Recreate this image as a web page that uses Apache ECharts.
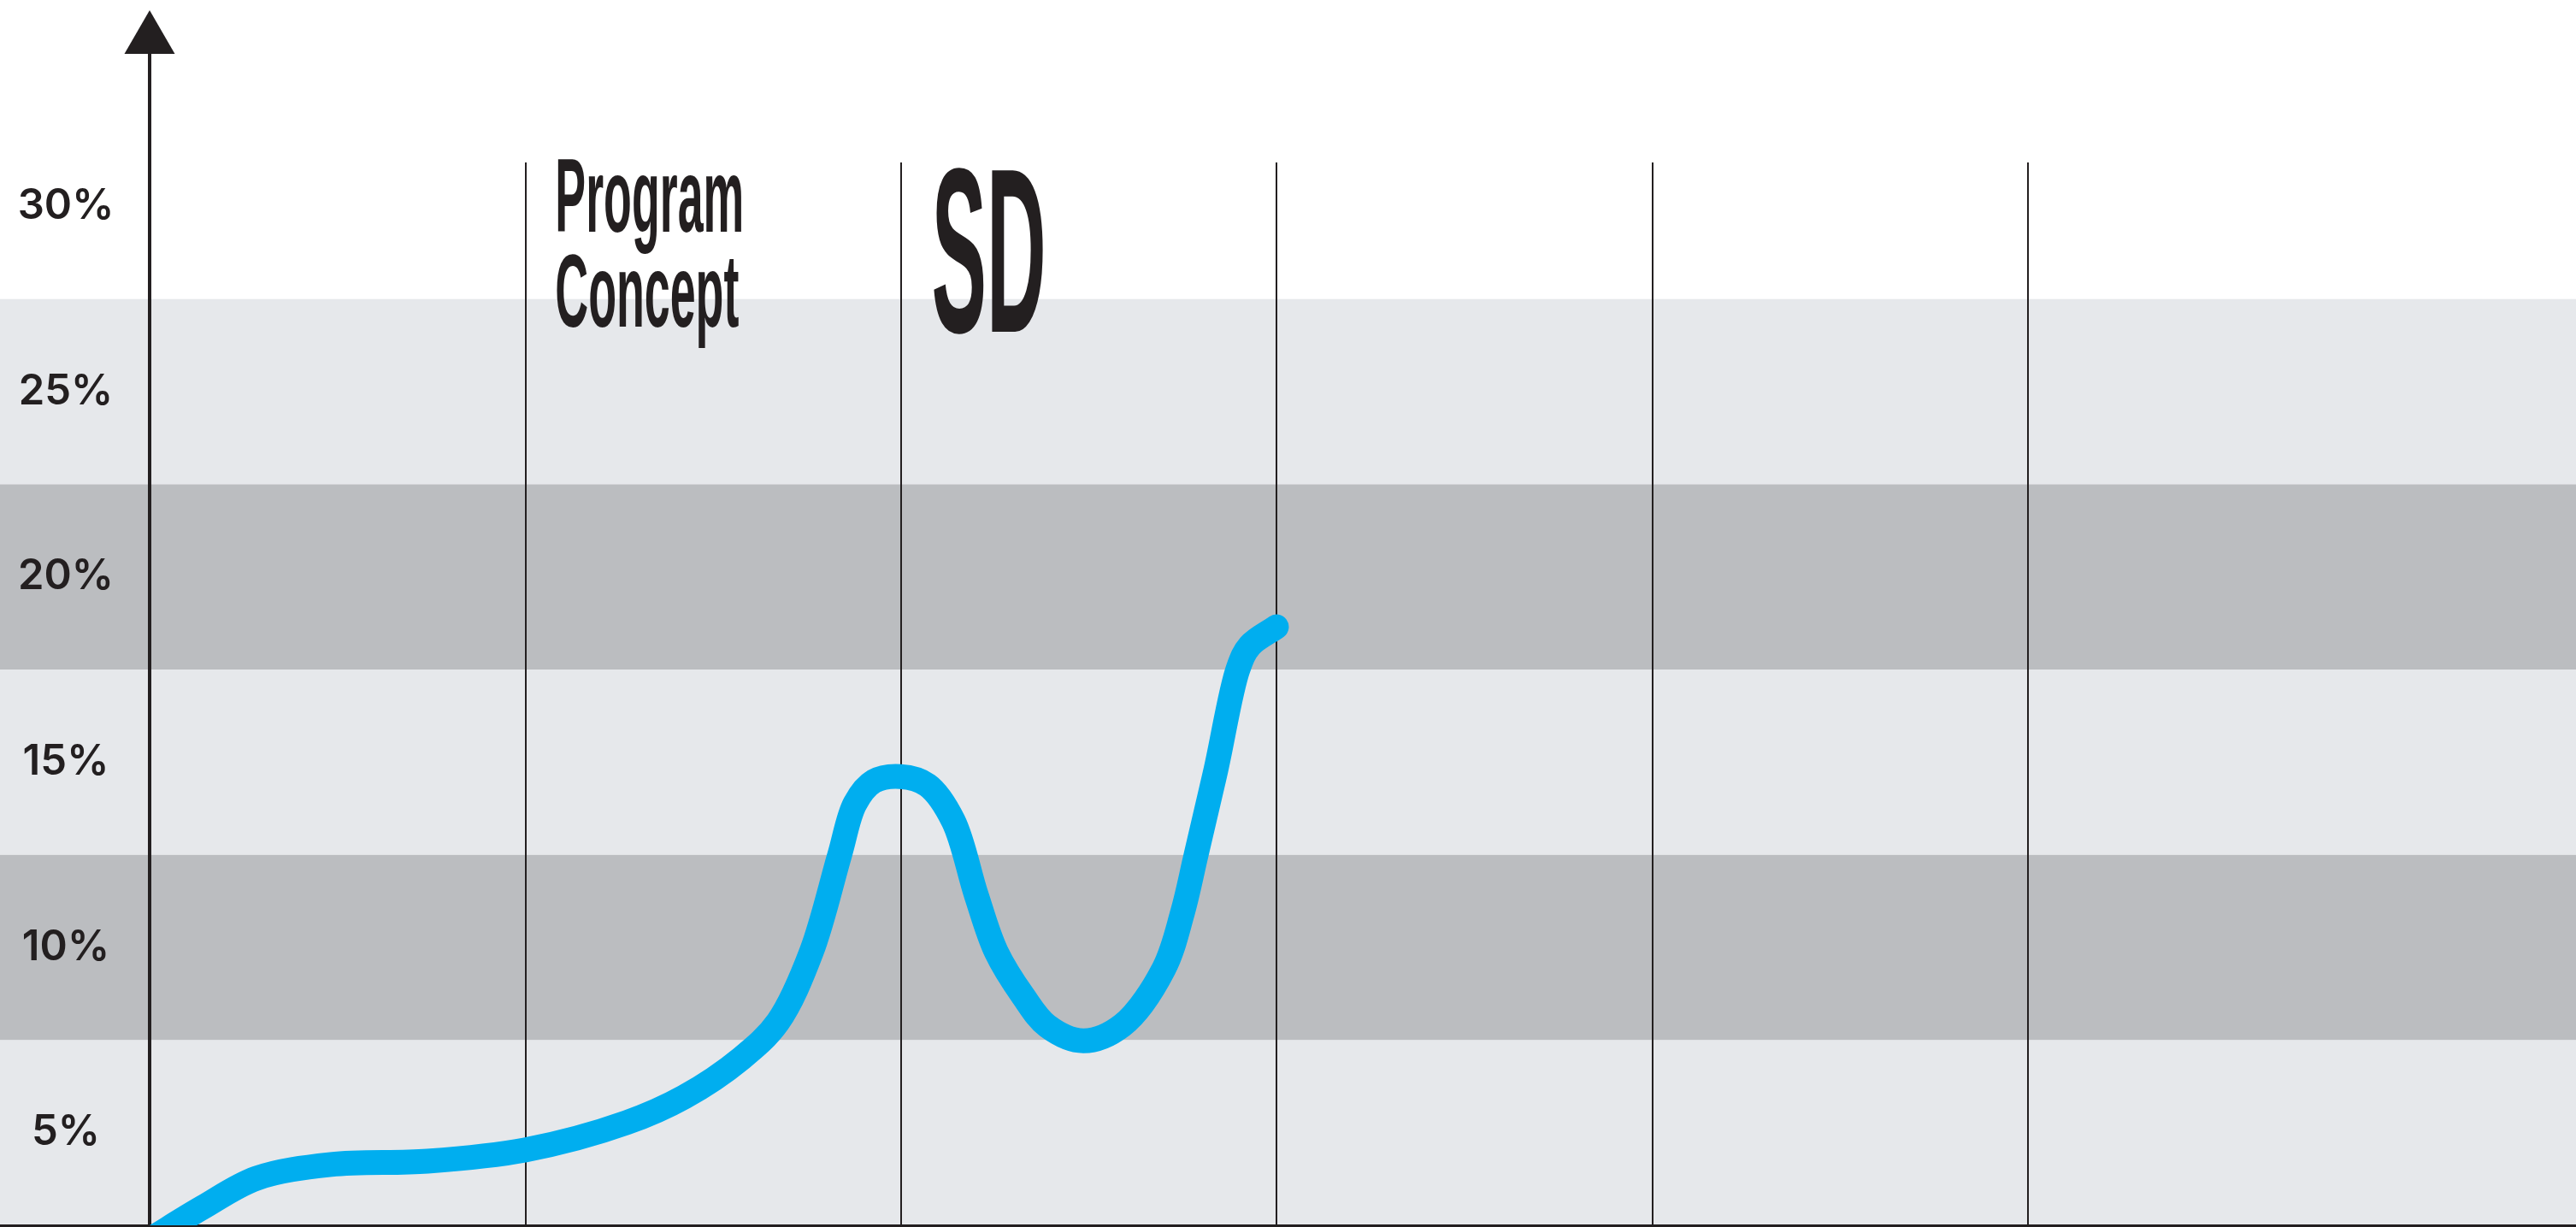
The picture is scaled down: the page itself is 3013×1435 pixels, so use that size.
<!DOCTYPE html>
<html>
<head>
<meta charset="utf-8">
<script src="https://cdn.jsdelivr.net/npm/echarts@6/dist/echarts.min.js"></script>
<style>
html,body{margin:0;padding:0;background:#ffffff;}
#c{width:3013px;height:1435px;}
</style>
</head>
<body>
<div id="c"></div>
<script>
// ---- data ----
const curveX = [0.000, 0.141, 0.285, 0.483, 0.740, 0.999, 1.270, 1.423, 1.575, 1.673,
  1.762, 1.837, 1.878, 1.928, 1.999, 2.071, 2.140, 2.201, 2.254, 2.326,
  2.390, 2.486, 2.590, 2.700, 2.750, 2.786, 2.839, 2.898, 2.929, 3.000];
const curveY = [2.11, 2.98, 3.77, 4.14, 4.23, 4.53, 5.27, 5.96, 7.00, 7.99,
  9.88, 12.49, 13.88, 14.48, 14.61, 14.38, 13.41, 11.41, 9.88, 8.68,
  7.88, 7.48, 7.90, 9.42, 10.94, 12.49, 14.80, 17.52, 18.14, 18.65];
const yTickLabels = [5, 10, 15, 20, 25, 30];
const phaseBoundaries = [1, 2, 3, 4, 5];
const phaseLabelX = [1, 2];
const phaseLabelText = ['Program\nConcept', 'SD'];

// ---- axis ranges / styles ----
const Y_MIN = 2.5, Y_MAX = 34.7, Y_BAND = 5, X_MAX = 6.46;
const INK = '#231f20';
const BLUE = '#00aeef';
const LIGHT = '#e6e8eb', DARK = '#bbbdc0', WHITE = '#ffffff';
const BAND_COLORS = [LIGHT, DARK, LIGHT, DARK, LIGHT, WHITE, WHITE, WHITE];

// smooth (centripetal Catmull-Rom) path through coordinates produced by the axes
function splinePath(pts) {
  const n = pts.length;
  const ext = (i) => {
    if (i < 0) return [2 * pts[0][0] - pts[1][0], 2 * pts[0][1] - pts[1][1]];
    if (i > n - 1) return [2 * pts[n - 1][0] - pts[n - 2][0], 2 * pts[n - 1][1] - pts[n - 2][1]];
    return pts[i];
  };
  const dist = (a, b) => Math.pow(Math.hypot(a[0] - b[0], a[1] - b[1]), 0.5);
  let d = 'M' + pts[0][0] + ' ' + pts[0][1];
  for (let i = 0; i < n - 1; i++) {
    const p0 = ext(i - 1), p1 = pts[i], p2 = pts[i + 1], p3 = ext(i + 2);
    const d1 = Math.max(dist(p0, p1), 1e-6), d2 = Math.max(dist(p1, p2), 1e-6), d3 = Math.max(dist(p2, p3), 1e-6);
    const b1 = [0, 1].map(k => (d1 * d1 * p2[k] - d2 * d2 * p0[k] + (2 * d1 * d1 + 3 * d1 * d2 + d2 * d2) * p1[k]) / (3 * d1 * (d1 + d2)));
    const b2 = [0, 1].map(k => (d3 * d3 * p1[k] - d2 * d2 * p3[k] + (2 * d3 * d3 + 3 * d3 * d2 + d2 * d2) * p2[k]) / (3 * d3 * (d3 + d2)));
    d += ' C' + b1[0] + ' ' + b1[1] + ' ' + b2[0] + ' ' + b2[1] + ' ' + p2[0] + ' ' + p2[1];
  }
  return d;
}

const chart = echarts.init(document.getElementById('c'), null, {renderer: 'canvas'});

const option = {
  animation: false,
  backgroundColor: WHITE,
  grid: [
    {left: 0, right: 0, top: 37.5, bottom: 2},
    {left: 175, right: 0, top: 37.5, bottom: 2},
    {left: 175, right: 0, top: 190, bottom: 2}
  ],
  xAxis: [
    {gridIndex: 0, type: 'value', min: 0, max: 1, z: 1,
     axisLine: {show: true, onZero: false, lineStyle: {color: INK, width: 3}},
     axisTick: {show: false}, axisLabel: {show: false}, splitLine: {show: false}},
    {gridIndex: 1, type: 'value', min: 0, max: X_MAX,
     axisLine: {show: false}, axisTick: {show: false}, axisLabel: {show: false}, splitLine: {show: false}},
    {gridIndex: 2, type: 'value', min: 0, max: X_MAX, z: 1,
     axisLine: {show: false},
     axisTick: {show: false, customValues: phaseBoundaries},
     axisLabel: {show: false},
     splitLine: {show: true, showMinLine: true, showMaxLine: true, lineStyle: {color: INK, width: 2}}}
  ],
  yAxis: [
    {gridIndex: 0, type: 'value', min: Y_MIN, max: Y_MAX, interval: Y_BAND, z: 0,
     axisLine: {show: false}, axisTick: {show: false}, axisLabel: {show: false},
     splitLine: {show: false},
     splitArea: {show: true, areaStyle: {color: BAND_COLORS}}},
    {gridIndex: 1, type: 'value', min: Y_MIN, max: Y_MAX, z: 2,
     axisLine: {show: true, onZero: false, symbol: ['none', 'triangle'], symbolSize: [59, 51],
                lineStyle: {color: INK, width: 4}},
     axisTick: {show: false},
     splitLine: {show: false},
     axisLabel: {customValues: yTickLabels, formatter: '{value}%', margin: 98, align: 'center',
                 fontFamily: 'Inter', fontWeight: 600, fontSize: 49, color: INK}},
    {gridIndex: 2, type: 'value', min: 0, max: 1, show: false}
  ],
  series: [{
    type: 'custom',
    name: 'curve',
    coordinateSystem: 'cartesian2d',
    xAxisIndex: 1, yAxisIndex: 1,
    data: curveX.map((x, i) => [x, curveY[i]]),
    encode: {x: 0, y: 1},
    clip: true,
    z: 5,
    renderItem: function (params, api) {
      if (params.dataIndex !== 0) return null;
      const pts = curveX.map((x, i) => api.coord([x, curveY[i]]));
      return {
        type: 'path',
        shape: {pathData: splinePath(pts)},
        style: {fill: null, stroke: BLUE, lineWidth: 29, lineCap: 'round', lineJoin: 'round'}
      };
    }
  }]
};
chart.setOption(option);

// ---- phase labels (condensed display type, fitted by scaling) ----
const mctx = document.createElement('canvas').getContext('2d');
function fitText(text, font, refGlyph, left, capTop, baseline, width) {
  mctx.font = font;
  mctx.textBaseline = 'middle';
  const m = mctx.measureText(refGlyph);
  const capH = m.actualBoundingBoxAscent + m.actualBoundingBoxDescent;
  const sy = (baseline - capTop) / capH;
  const sx = width / mctx.measureText(text).width;
  return {
    type: 'text', x: left, y: baseline - m.actualBoundingBoxDescent * sy,
    scaleX: sx, scaleY: sy, z: 10, silent: true,
    style: {text: text, x: 0, y: 0, font: font, fill: INK,
            align: 'left', verticalAlign: 'middle'}
  };
}
const FONT_SMALL = 'bold 119px "Liberation Sans Narrow", "Liberation Sans", Arial, sans-serif';
const FONT_BIG = 'bold 272px "Liberation Sans Narrow", "Liberation Sans", Arial, sans-serif';
const xPx = v => chart.convertToPixel({xAxisIndex: 1}, v);
const lines0 = phaseLabelText[0].split('\n');
const graphics = [
  fitText(lines0[0], FONT_SMALL, 'P', xPx(phaseLabelX[0]) + 35, 187, 271, 221),
  fitText(lines0[1], FONT_SMALL, 'C', xPx(phaseLabelX[0]) + 35, 298, 383, 215),
  fitText(phaseLabelText[1], FONT_BIG, 'D', xPx(phaseLabelX[1]) + 36, 195, 388, 134)
];
chart.setOption({graphic: graphics});
</script>
</body>
</html>
